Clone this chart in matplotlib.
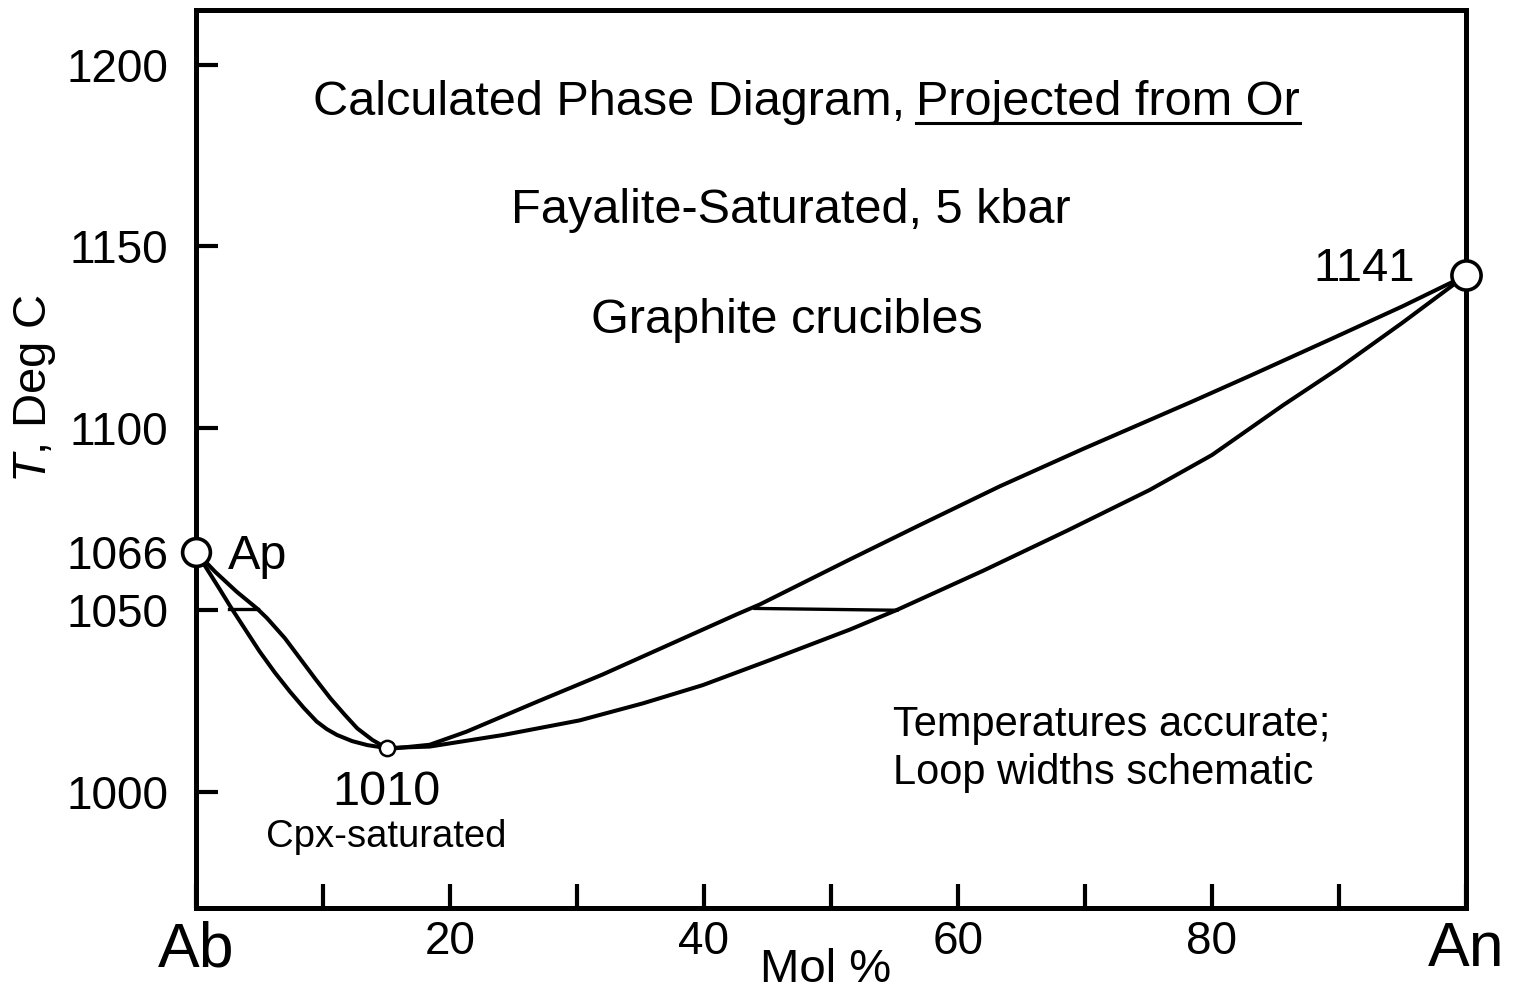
import numpy as np
import matplotlib
matplotlib.use("Agg")
import matplotlib.pyplot as plt

plt.rcParams['font.family'] = ['Liberation Sans', 'DejaVu Sans']
plt.rcParams['mathtext.fontset'] = 'custom'
plt.rcParams['mathtext.it'] = 'Liberation Sans:italic'
plt.rcParams['mathtext.rm'] = 'Liberation Sans'

# ---- data (mol % An, T deg C) ----
ab_melt = (0, 1066)
an_melt = (100, 1142)
minimum = (15, 1012)

# Ab side of the loop
left_upper_x = [0, 1.5, 3.2, 4.8, 5.6, 7.0, 8.2, 9.4, 10.6, 11.7, 12.7, 13.9, 15]
left_upper_t = [1066, 1060.5, 1055, 1050.4, 1047.7, 1042.2, 1036.6, 1031.0, 1025.6, 1021.2, 1017.4, 1014.2, 1012]
left_lower_x = [0, 1.0, 1.9, 2.8, 3.9, 5.0, 6.2, 7.4, 8.5, 9.5, 10.3, 11.1, 12.3, 13.5, 15]
left_lower_t = [1066, 1060.5, 1055.5, 1050.4, 1044.5, 1038.6, 1032.8, 1027.5, 1023.0, 1019.3, 1017.2, 1015.6, 1013.9, 1012.8, 1012]

# An side of the loop
right_upper_x = [15, 15.3, 18.4, 21.3, 26.9, 32.0, 37.3, 42.6, 44.4, 51.5, 56.8, 63.3,
                 69.8, 78.5, 83.0, 89.5, 95.0, 100]
right_upper_t = [1012, 1011.8, 1012.9, 1016.5, 1024.8, 1032.2, 1040.5, 1048.8, 1051.5, 1063.9, 1073.0, 1084.0,
                 1094.2, 1107.4, 1114.4, 1124.7, 1133.5, 1142]
right_lower_x = [15, 18.4, 24.2, 30.2, 35.2, 39.9, 45.2, 51.5, 55.2, 62.0, 68.6, 75.1,
                 80.0, 85.6, 90.0, 95.0, 100]
right_lower_t = [1012, 1012.4, 1015.6, 1019.6, 1024.3, 1029.3, 1036.2, 1044.6, 1050.0, 1060.8, 1071.8, 1083.0,
                 1092.6, 1106.3, 1116.5, 1129.0, 1142]

# tie lines at ~1050
tie_left_x = [2.6, 4.9]
tie_left_t = [1050.2, 1050.2]
tie_right_x = [44.0, 55.2]
tie_right_t = [1050.4, 1049.9]

yticks = [1000, 1050, 1066, 1100, 1150, 1200]
xticks = [0, 10, 20, 30, 40, 50, 60, 70, 80, 90, 100]
xticklabels = ['Ab', '', '20', '', '40', '', '60', '', '80', '', 'An']

fig = plt.figure(figsize=(15.17, 9.94), dpi=100)
ax = fig.add_axes([196 / 1517, 86 / 994, 1270 / 1517, 898 / 994])

lw = 2.9
for xs, ts in [(left_upper_x, left_upper_t), (left_lower_x, left_lower_t),
               (right_upper_x, right_upper_t), (right_lower_x, right_lower_t)]:
    ax.plot(xs, ts, color='black', lw=lw, solid_capstyle='round', solid_joinstyle='round', zorder=3)
ax.plot(tie_left_x, tie_left_t, color='black', lw=2.4, zorder=3)
ax.plot(tie_right_x, tie_right_t, color='black', lw=2.4, zorder=3)

# melting points
ax.plot(*ab_melt, 'o', ms=20, mfc='white', mec='black', mew=2.6, clip_on=False, zorder=5)
ax.plot(*an_melt, 'o', ms=21, mfc='white', mec='black', mew=2.6, clip_on=False, zorder=5)
ax.plot(*minimum, 'o', ms=11, mfc='white', mec='black', mew=1.8, clip_on=False, zorder=5)

ax.set_xlim(0, 100)
ax.set_ylim(968, 1215)

for s in ax.spines.values():
    s.set_linewidth(3.6)

ax.set_yticks(yticks)
ax.set_yticklabels([str(v) for v in yticks], fontsize=33)
ax.tick_params(axis='y', direction='in', length=16, width=3, pad=20)
ax.yaxis.get_major_ticks()[2].tick1line.set_visible(False)

ax.set_xticks(xticks)
ax.set_xticklabels(xticklabels, fontsize=33)
ax.tick_params(axis='x', direction='in', length=17, width=3, pad=9)
for lab in ax.get_xticklabels():
    if lab.get_text() in ('Ab', 'An'):
        lab.set_fontsize(45)

ax.set_xlabel('Mol %', fontsize=34)
ax.xaxis.set_label_coords(0.496, -0.044)
ax.text(-0.127, 0.579, '$T$, Deg C', rotation=90, fontsize=34, ha='center', va='center',
        transform=ax.transAxes)

# annotations
fs = 35
t1 = ax.text(55.8, 1186, 'Calculated Phase Diagram,', fontsize=fs, ha='right', va='baseline')
t2 = ax.text(56.7, 1186, 'Projected from Or', fontsize=fs, ha='left', va='baseline')
ax.text(46.8, 1156.5, 'Fayalite-Saturated, 5 kbar', fontsize=fs, ha='center', va='baseline')
ax.text(46.5, 1126.2, 'Graphite crucibles', fontsize=fs, ha='center', va='baseline')
ax.text(96.0, 1140.5, '1141', fontsize=34, ha='right', va='baseline')
ax.text(2.5, 1061.2, 'Ap', fontsize=fs, ha='left', va='baseline')
ax.text(15, 996.4, '1010', fontsize=fs, ha='center', va='baseline')
ax.text(15, 984.8, 'Cpx-saturated', fontsize=27.5, ha='center', va='baseline', clip_on=False)
ax.text(54.9, 1015.2, 'Temperatures accurate;', fontsize=30, ha='left', va='baseline')
ax.text(54.9, 1002.2, 'Loop widths schematic', fontsize=30, ha='left', va='baseline')

# underline under "Projected from Or"
fig.canvas.draw()
bb = t2.get_window_extent()
inv = ax.transData.inverted()
ux0 = inv.transform((bb.x0, bb.y0))[0]
ux1 = inv.transform((bb.x1, bb.y0))[0]
ax.plot([ux0, ux1], [1184.0, 1184.0], color='black', lw=2.2)

fig.savefig('out.png', dpi=100, facecolor='white')
